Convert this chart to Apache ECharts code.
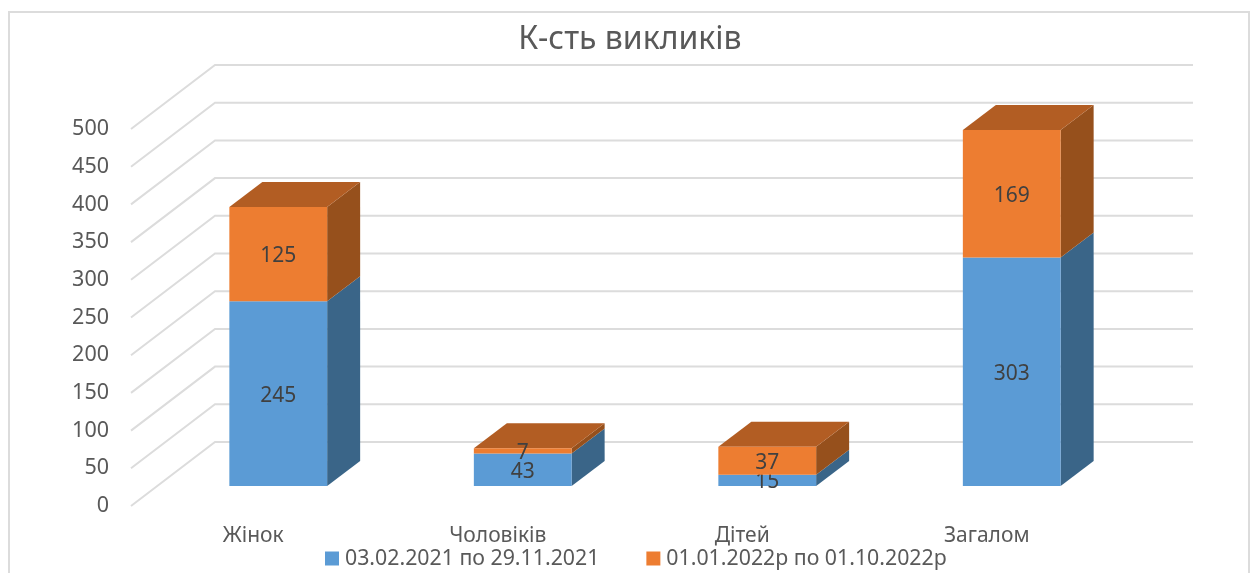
<!DOCTYPE html>
<html>
<head>
<meta charset="utf-8">
<title>К-сть викликів</title>
<script src="https://cdn.jsdelivr.net/npm/echarts@6/dist/echarts.min.js"></script>
<style>
    html, body { margin: 0; padding: 0; background: #fff; }
    #chart { width: 1252px; height: 573px; }
</style>
</head>
<body>
<div id="chart"></div>
<script>
const categories = ['Жінок', 'Чоловіків', 'Дітей', 'Загалом'];
const firstPeriod = [245, 43, 15, 303];
const secondPeriod = [125, 7, 37, 169];
const seriesNames = ['03.02.2021 по 29.11.2021', '01.01.2022р по 01.10.2022р'];
const yTicks = [0, 50, 100, 150, 200, 250, 300, 350, 400, 450, 500];

const FONT = '"Noto Sans", sans-serif';
// глибина "кімнати" і зсув стовпчиків у пікселях
const WALL_DX = 84, WALL_DY = -64;
const BAR_DX = 25, BAR_DY = -20;
const DEPTH_DX = 33, DEPTH_DY = -25;

const chart = echarts.init(document.getElementById('chart'), null, { renderer: 'canvas' });

// лінії сітки: діагональ збоку + горизонталь на задній стінці
function renderGridLine(params, api) {
    const band = api.size([1, 0])[0];
    const first = api.coord([0, api.value(0)]);
    const last = api.coord([categories.length - 1, api.value(0)]);
    const x0 = first[0] - band / 2;
    const x1 = last[0] + band / 2;
    return {
        type: 'polyline',
        shape: { points: [[x0, first[1]], [x0 + WALL_DX, first[1] + WALL_DY], [x1 + WALL_DX, first[1] + WALL_DY]] },
        style: { stroke: '#DCDCDC', lineWidth: 2, fill: null }
    };
}

function makeBarRenderer(colors, hasTop) {
    return function (params, api) {
        const band = api.size([1, 0])[0];
        const w = band * 0.4;
        const low = api.coord([api.value(0), api.value(1)]);
        const high = api.coord([api.value(0), api.value(2)]);
        const cx = low[0] + BAR_DX;
        const left = cx - w / 2, right = cx + w / 2;
        const yLow = low[1] + BAR_DY, yHigh = high[1] + BAR_DY;
        const children = [{
            type: 'polygon',
            shape: { points: [[right, yLow], [right + DEPTH_DX, yLow + DEPTH_DY], [right + DEPTH_DX, yHigh + DEPTH_DY], [right, yHigh]] },
            style: { fill: colors.side }
        }];
        if (hasTop) {
            children.push({
                type: 'polygon',
                shape: { points: [[left, yHigh], [left + DEPTH_DX, yHigh + DEPTH_DY], [right + DEPTH_DX, yHigh + DEPTH_DY], [right, yHigh]] },
                style: { fill: colors.top }
            });
        }
        children.push({
            type: 'rect',
            shape: { x: left, y: yHigh, width: w, height: yLow - yHigh },
            style: { fill: colors.front }
        });
        children.push({
            type: 'text',
            z2: 10,
            style: {
                x: cx, y: (yLow + yHigh) / 2 + 2,
                text: String(api.value(3)),
                align: 'center', verticalAlign: 'middle',
                fill: '#404040', font: '21px ' + FONT
            }
        });
        return { type: 'group', children: children };
    };
}

const blueData = firstPeriod.map((v, i) => [i, 0, v, v]);
const orangeData = secondPeriod.map((v, i) => [i, firstPeriod[i], firstPeriod[i] + v, v]);

chart.setOption({
    animation: false,
    title: {
        text: 'К-сть викликів',
        left: 625, top: 19,
        textAlign: 'center',
        textStyle: { color: '#595959', fontSize: 32, fontWeight: 400, fontFamily: FONT }
    },
    legend: {
        data: seriesNames,
        left: 320, top: 543,
        itemWidth: 14, itemHeight: 14,
        itemGap: 47,
        icon: 'rect',
        textStyle: { color: '#595959', fontSize: 21.3, fontFamily: FONT, padding: [0, 0, 0, 1] }
    },
    grid: { left: 131, right: 143, top: 129, bottom: 67 },
    xAxis: {
        type: 'category',
        data: categories,
        axisLine: { show: false },
        axisTick: { show: false },
        axisLabel: { color: '#595959', fontSize: 21, fontFamily: FONT, margin: 20 }
    },
    yAxis: {
        type: 'value',
        min: 0, max: 500, interval: 50,
        axisLine: { show: false },
        axisTick: { show: false },
        splitLine: { show: false },
        axisLabel: { color: '#595959', fontSize: 21.5, fontFamily: FONT, margin: 22, padding: [4, 0, 0, 0] }
    },
    graphic: [{
        type: 'rect',
        silent: true,
        shape: { x: 9, y: 12, width: 1240, height: 600 },
        style: { stroke: '#DCDCDC', lineWidth: 2, fill: null }
    }],
    series: [
        {
            type: 'custom', silent: true, z: 1,
            renderItem: renderGridLine,
            data: yTicks.map(t => [t]),
            encode: { y: 0 }
        },
        {
            name: seriesNames[0],
            type: 'custom', z: 2,
            itemStyle: { color: '#5B9BD5' },
            renderItem: makeBarRenderer({ front: '#5B9BD5', side: '#3A6588' }, false),
            data: blueData,
            encode: { x: 0, y: [1, 2] }
        },
        {
            name: seriesNames[1],
            type: 'custom', z: 3,
            itemStyle: { color: '#ED7D31' },
            renderItem: makeBarRenderer({ front: '#ED7D31', side: '#96501C', top: '#B25D23' }, true),
            data: orangeData,
            encode: { x: 0, y: [1, 2] }
        }
    ]
});
</script>
</body>
</html>
